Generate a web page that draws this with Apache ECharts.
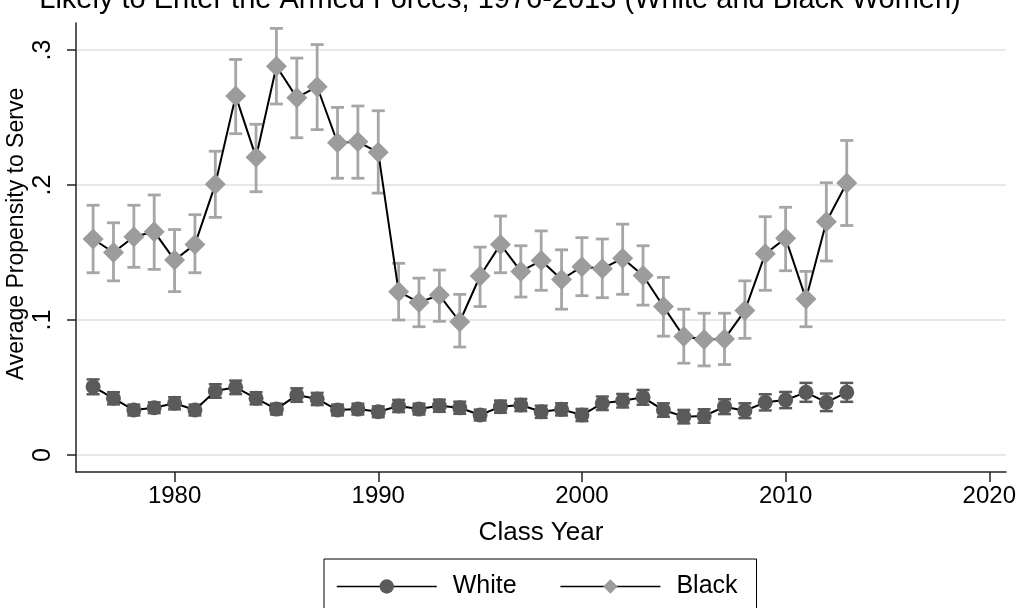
<!DOCTYPE html>
<html>
<head>
<meta charset="utf-8">
<script src="https://cdn.jsdelivr.net/npm/echarts@6/dist/echarts.min.js"></script>
<style>
html,body{margin:0;padding:0;background:#fff;}
#chart{width:1022px;height:608px;}
</style>
</head>
<body>
<div id="chart"></div>
<script>
// ---- data ----
const years = [1976,1977,1978,1979,1980,1981,1982,1983,1984,1985,1986,1987,1988,1989,1990,1991,1992,1993,1994,1995,1996,1997,1998,1999,2000,2001,2002,2003,2004,2005,2006,2007,2008,2009,2010,2011,2012,2013];

const whiteMean = [0.0506,0.042,0.0333,0.035,0.0383,0.0333,0.0474,0.0501,0.042,0.034,0.0444,0.0415,0.0333,0.034,0.032,0.0363,0.034,0.0365,0.035,0.0296,0.0358,0.037,0.032,0.0338,0.0296,0.0383,0.0402,0.0427,0.0333,0.0284,0.0289,0.0358,0.0328,0.039,0.0407,0.0464,0.039,0.0464];
const whiteLow  = [0.045,0.0375,0.0293,0.031,0.0338,0.0293,0.0424,0.0451,0.0375,0.030,0.0394,0.037,0.0293,0.030,0.028,0.0318,0.030,0.032,0.0305,0.0256,0.0313,0.0325,0.0275,0.0293,0.0251,0.0333,0.0352,0.0372,0.0283,0.0234,0.0239,0.0303,0.0273,0.033,0.0347,0.0394,0.0325,0.0394];
const whiteHigh = [0.056,0.0465,0.0373,0.039,0.0428,0.0373,0.0524,0.0551,0.0465,0.038,0.0494,0.046,0.0373,0.038,0.036,0.0408,0.038,0.041,0.0395,0.0336,0.0403,0.0415,0.0365,0.0383,0.0341,0.0433,0.0452,0.0482,0.0383,0.0334,0.0339,0.0413,0.0383,0.045,0.0467,0.0534,0.0455,0.0534];

const blackMean = [0.160,0.150,0.1617,0.1654,0.1444,0.156,0.2005,0.266,0.2205,0.288,0.2647,0.2728,0.2313,0.232,0.2242,0.121,0.113,0.1185,0.0987,0.1326,0.156,0.136,0.144,0.130,0.1395,0.138,0.1457,0.133,0.110,0.0877,0.0855,0.086,0.107,0.149,0.1605,0.1156,0.1728,0.2015];
const blackLow  = [0.135,0.129,0.139,0.1375,0.121,0.135,0.176,0.238,0.195,0.260,0.235,0.241,0.205,0.205,0.194,0.100,0.095,0.099,0.080,0.110,0.135,0.117,0.122,0.108,0.118,0.1165,0.119,0.111,0.088,0.068,0.066,0.067,0.0864,0.122,0.1365,0.095,0.1437,0.170];
const blackHigh = [0.185,0.172,0.185,0.1926,0.167,0.178,0.225,0.293,0.245,0.316,0.294,0.304,0.2575,0.2585,0.255,0.142,0.131,0.137,0.119,0.154,0.177,0.155,0.166,0.152,0.161,0.160,0.171,0.155,0.1316,0.108,0.105,0.105,0.129,0.1765,0.1835,0.136,0.2017,0.233];

const xTicks = [1980,1990,2000,2010,2020];
const yTicks = [0,0.1,0.2,0.3];
const yTickLabels = ['0','.1','.2','.3'];
const seriesNames = ['White','Black'];
const titleText = 'Likely to Enter the Armed Forces, 1976-2013 (White and Black Women)';
const xTitle = 'Class Year';
const yTitle = 'Average Propensity to Serve';

// ---- build ----
const FONT = '"Liberation Sans", Arial, Helvetica, sans-serif';
const whitePts = years.map((y,i)=>[y, whiteMean[i]]);
const blackPts = years.map((y,i)=>[y, blackMean[i]]);
const whiteErr = years.map((y,i)=>[y, whiteLow[i], whiteHigh[i]]);
const blackErr = years.map((y,i)=>[y, blackLow[i], blackHigh[i]]);

function errRender(color, cap, width){
  return function(params, api){
    const x = api.value(0), lo = api.value(1), hi = api.value(2);
    const a = api.coord([x, lo]), b = api.coord([x, hi]);
    const style = {stroke: color, lineWidth: width, fill: null};
    return {type:'group', children:[
      {type:'line', shape:{x1:a[0],y1:a[1],x2:b[0],y2:b[1]}, style:style},
      {type:'line', shape:{x1:a[0]-cap,y1:a[1],x2:a[0]+cap,y2:a[1]}, style:style},
      {type:'line', shape:{x1:b[0]-cap,y1:b[1],x2:b[0]+cap,y2:b[1]}, style:style}
    ]};
  };
}

const chart = echarts.init(document.getElementById('chart'), null, {renderer:'canvas'});
chart.setOption({
  animation:false,
  backgroundColor:'#fff',
  graphic:[
    {
      type:'text', x: 500, y: 14,
      style:{text: titleText, font: '29px ' + FONT, fill:'#000', textAlign:'center', textVerticalAlign:'bottom'}
    },
    {
      type:'text', x: 17, y: 234, rotation: Math.PI/2,
      style:{text: yTitle, font: '23px ' + FONT, fill:'#000', textAlign:'center', textVerticalAlign:'middle'}
    }
  ],
  grid:{left:76, right:16, top:23, bottom:136, containLabel:false},
  legend:{
    data: seriesNames,
    left:324, top:559,
    padding:[15,19,13,12],
    itemGap:43, itemWidth:100, itemHeight:18,
    borderColor:'#000', borderWidth:1,
    lineStyle:{width:1.5},
    textStyle:{fontSize:25, fontFamily:FONT, color:'#000', padding:[0,0,0,11]}
  },
  xAxis:{
    type:'value', min:1975.16, max:2020.82,
    name:xTitle, nameLocation:'middle', nameGap:48,
    nameTextStyle:{fontSize:26, fontFamily:FONT, color:'#000'},
    axisLine:{show:true, onZero:false, lineStyle:{color:'#222', width:1.5}},
    axisTick:{show:true, length:10, customValues:xTicks, lineStyle:{color:'#222', width:1.5}},
    axisLabel:{customValues:xTicks, fontSize:24, fontFamily:FONT, color:'#000', margin:12,
      formatter:function(v){ return String(Math.round(v)); }},
    splitLine:{show:false}
  },
  yAxis:{
    type:'value', min:-0.0126, max:0.32,
    axisLine:{show:true, onZero:false, lineStyle:{color:'#222', width:1.5}},
    axisTick:{show:true, length:9, customValues:yTicks, lineStyle:{color:'#222', width:1.5}},
    axisLabel:{customValues:yTicks, rotate:90, fontSize:25, fontFamily:FONT, color:'#000', margin:20,
      formatter:function(v){ const i = yTicks.findIndex(t=>Math.abs(t-v)<1e-9); return i>=0 ? yTickLabels[i] : ''; }},
    splitLine:{show:false}
  },
  series:[
    {
      type:'custom', name:'grid', silent:true, z:0,
      data: yTicks.map(v=>[v]),
      encode:{y:0},
      renderItem:function(params, api){
        const cs = params.coordSys;
        const p = api.coord([1990, api.value(0)]);
        return {type:'line', shape:{x1:cs.x, y1:p[1], x2:cs.x+cs.width, y2:p[1]},
          style:{stroke:'#e8e8e8', lineWidth:2}};
      }
    },
    {
      type:'custom', name:'whiteErr', silent:true, z:1,
      data: whiteErr, encode:{x:0, y:[1,2]},
      renderItem: errRender('#5a5a5a', 6.5, 2.5)
    },
    {
      type:'custom', name:'blackErr', silent:true, z:1,
      data: blackErr, encode:{x:0, y:[1,2]},
      renderItem: errRender('#a6a6a6', 6.5, 2.8)
    },
    {
      type:'line', name:seriesNames[0], data: whitePts, z:3,
      symbol:'circle', symbolSize:15, showSymbol:true,
      lineStyle:{color:'#000', width:2},
      itemStyle:{color:'#5a5a5a'}
    },
    {
      type:'line', name:seriesNames[1], data: blackPts, z:3,
      symbol:'diamond', symbolSize:21, showSymbol:true,
      lineStyle:{color:'#000', width:2},
      itemStyle:{color:'#9c9c9c'}
    }
  ]
});
</script>
</body>
</html>
